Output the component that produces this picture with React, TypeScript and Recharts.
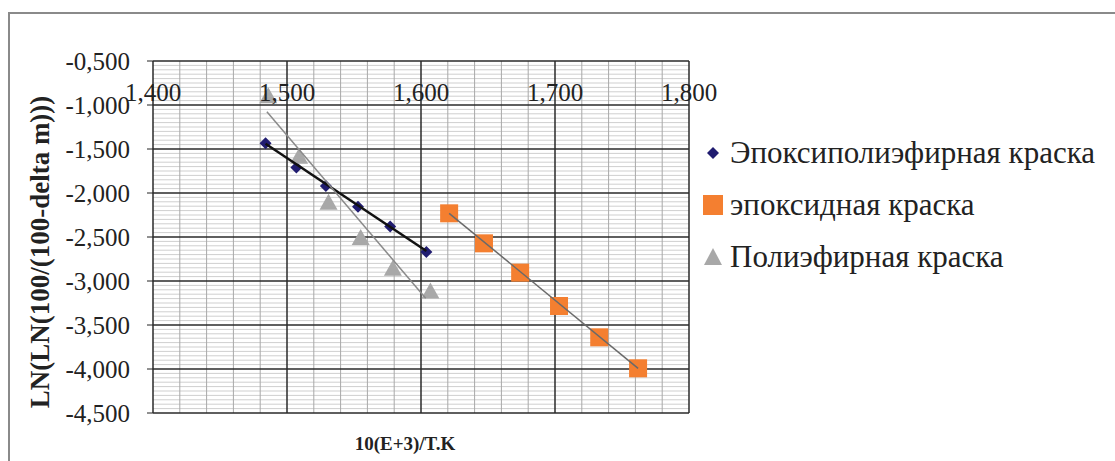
import React from 'react'
import { ScatterChart, Scatter, XAxis, YAxis, ReferenceLine, Legend, Label } from 'recharts'

const SERIF = '"Liberation Serif", "Times New Roman", serif'

const xTicks = [1.4, 1.5, 1.6, 1.7, 1.8]
const yTicks = [-4.5, -4.0, -3.5, -3.0, -2.5, -2.0, -1.5, -1.0, -0.5]

const seriesNames = ['Эпоксиполиэфирная краска', 'эпоксидная краска', 'Полиэфирная краска']

const epoxyPolyester = [
  { x: 1.484, y: -1.435 },
  { x: 1.507, y: -1.71 },
  { x: 1.529, y: -1.92 },
  { x: 1.553, y: -2.155 },
  { x: 1.577, y: -2.38 },
  { x: 1.604, y: -2.67 },
]

const epoxy = [
  { x: 1.621, y: -2.231 },
  { x: 1.647, y: -2.572 },
  { x: 1.674, y: -2.905 },
  { x: 1.703, y: -3.284 },
  { x: 1.733, y: -3.64 },
  { x: 1.762, y: -3.992 },
]

const polyester = [
  { x: 1.486, y: -0.9 },
  { x: 1.509, y: -1.587 },
  { x: 1.531, y: -2.11 },
  { x: 1.555, y: -2.51 },
  { x: 1.579, y: -2.86 },
  { x: 1.607, y: -3.12 },
]

// trend line ends
const epoxyPolyesterTrend = [
  { x: 1.484, y: -1.44 },
  { x: 1.604, y: -2.66 },
]
const epoxyTrend = [
  { x: 1.621, y: -2.231 },
  { x: 1.762, y: -3.992 },
]
const polyesterTrend = [
  { x: 1.485, y: -1.076 },
  { x: 1.6035, y: -3.197 },
]

const minorX: number[] = []
for (let i = 1; i < 20; i++) if (i % 5 !== 0) minorX.push(+(1.4 + i * 0.02).toFixed(3))
const minorY: number[] = []
for (let i = 1; i < 80; i++) if (i % 10 !== 0) minorY.push(+(-4.5 + i * 0.05).toFixed(3))

const fmt = (v: number) => v.toFixed(3).replace('.', ',')

const Diamond = (p: any) => (
  <polygon
    points={`${p.cx},${p.cy - 6} ${p.cx + 6},${p.cy} ${p.cx},${p.cy + 6} ${p.cx - 6},${p.cy}`}
    fill="#201c70"
  />
)
const Square = (p: any) => <rect x={p.cx - 9} y={p.cy - 9} width={18} height={18} fill="#f47f30" />
const Triangle = (p: any) => (
  <polygon points={`${p.cx},${p.cy - 9} ${p.cx + 9},${p.cy + 7} ${p.cx - 9},${p.cy + 7}`} fill="#a8a8a8" />
)
const NoDot = () => <g />

const XTick = (p: any) => (
  <text x={p.x} y={p.y + 40} textAnchor="middle" fontFamily={SERIF} fontSize={25} fill="#222">
    {fmt(p.payload.value)}
  </text>
)

const legendMarks = [
  <polygon key="d" points="11,9 17,15 11,21 5,15" fill="#201c70" />,
  <rect key="s" x={1} y={5} width={20} height={20} fill="#f47f30" />,
  <polygon key="t" points="11,6 20,23 2,23" fill="#a8a8a8" />,
]

const renderLegend = () => (
  <div style={{ fontFamily: SERIF, fontSize: 31, color: '#222', lineHeight: '52px' }}>
    {seriesNames.map((n, i) => (
      <div key={n} style={{ display: 'flex', alignItems: 'center', height: 52 }}>
        <svg width={24} height={30} style={{ marginRight: 4 }}>
          {legendMarks[i]}
        </svg>
        <span style={{ whiteSpace: 'nowrap' }}>{n}</span>
      </div>
    ))}
  </div>
)

export default function App() {
  return (
    <div style={{ position: 'absolute', left: 0, top: 0, width: 1115, height: 461, background: '#fff' }}>
      <div
        style={{
          position: 'absolute',
          left: 8,
          top: 12,
          right: 0,
          bottom: 0,
          borderTop: '2px solid #8a8a8a',
          borderLeft: '2px solid #8a8a8a',
        }}
      />
      <ScatterChart width={1115} height={461} margin={{ top: 60, right: 426, bottom: 48, left: 73 }}>
        <XAxis
          type="number"
          dataKey="x"
          orientation="top"
          domain={[1.4, 1.8]}
          ticks={xTicks}
          height={1}
          tickSize={0}
          tickMargin={0}
          axisLine={false}
          tick={<XTick />}
        >
          <Label
            content={(p: any) => (
              <text
                x={p.viewBox.x + p.viewBox.width / 2 - 16}
                y={p.viewBox.y + 390}
                textAnchor="middle"
                fontFamily={SERIF}
                fontWeight="bold"
                fontSize={19}
                fill="#222"
              >
                10(E+3)/T.K
              </text>
            )}
          />
        </XAxis>
        <YAxis
          type="number"
          dataKey="y"
          domain={[-4.5, -0.5]}
          ticks={yTicks}
          width={80}
          tickSize={6}
          tickMargin={17}
          tickLine={{ stroke: '#222' }}
          axisLine={false}
          tickFormatter={fmt}
          tick={{ fontFamily: SERIF, fontSize: 25, fill: '#222' }}
        >
          <Label
            content={(p: any) => {
              const cx = p.viewBox.x - 33
              const cy = p.viewBox.y + p.viewBox.height / 2 + 15
              return (
                <text
                  x={cx}
                  y={cy}
                  transform={`rotate(-90 ${cx} ${cy})`}
                  textAnchor="middle"
                  dominantBaseline="central"
                  fontFamily={SERIF}
                  fontWeight="bold"
                  fontSize={27}
                  fill="#222"
                >
                  LN(LN(100/(100-delta m)))
                </text>
              )
            }}
          />
        </YAxis>
        {minorY.map((v) => (
          <ReferenceLine key={'my' + v} y={v} stroke="#cfcfcf" strokeWidth={1} />
        ))}
        {minorX.map((v) => (
          <ReferenceLine key={'mx' + v} x={v} stroke="#a8a8a8" strokeWidth={1} />
        ))}
        {yTicks.map((v) => (
          <ReferenceLine key={'y' + v} y={v} stroke="#2a2a2a" strokeWidth={1.5} />
        ))}
        {xTicks.map((v) => (
          <ReferenceLine key={'x' + v} x={v} stroke="#2a2a2a" strokeWidth={1.5} />
        ))}
        <Legend
          layout="vertical"
          align="center"
          verticalAlign="middle"
          content={renderLegend}
          wrapperStyle={{ left: 702, top: 127, width: 413 }}
        />
        <Scatter name={seriesNames[0]} data={epoxyPolyester} shape={<Diamond />} isAnimationActive={false} />
        <Scatter name={seriesNames[1]} data={epoxy} shape={<Square />} isAnimationActive={false} />
        <Scatter name={seriesNames[2]} data={polyester} shape={<Triangle />} isAnimationActive={false} />
        <Scatter
          data={epoxyPolyesterTrend}
          line={{ stroke: '#111', strokeWidth: 2.5 }}
          shape={<NoDot />}
          legendType="none"
          isAnimationActive={false}
        />
        <Scatter
          data={epoxyTrend}
          line={{ stroke: '#6a6a6a', strokeWidth: 1.5 }}
          shape={<NoDot />}
          legendType="none"
          isAnimationActive={false}
        />
        <Scatter
          data={polyesterTrend}
          line={{ stroke: '#8a8a8a', strokeWidth: 1.5 }}
          shape={<NoDot />}
          legendType="none"
          isAnimationActive={false}
        />
      </ScatterChart>
    </div>
  )
}
